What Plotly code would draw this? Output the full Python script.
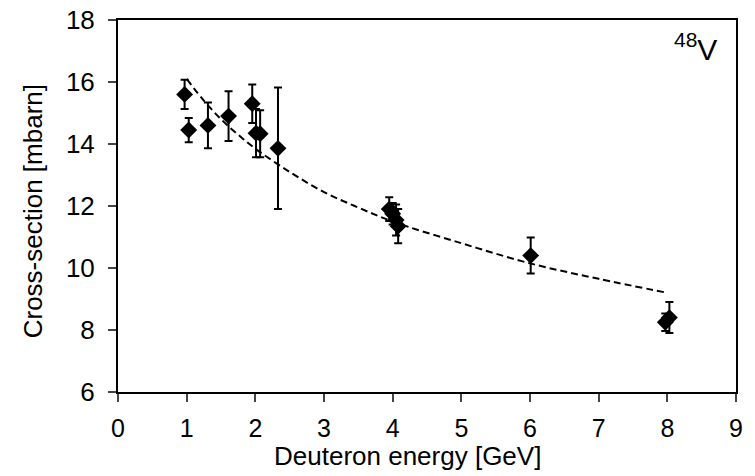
import plotly.graph_objects as go

# Measured cross-sections (Deuteron energy in GeV, cross-section in mbarn)
energy = [0.97, 1.03, 1.31, 1.61, 1.955, 2.01, 2.07, 2.33,
          3.95, 4.0, 4.05, 4.08, 6.01, 7.97, 8.03]
xsec = [15.6, 14.45, 14.6, 14.9, 15.3, 14.35, 14.33, 13.86,
        11.9, 11.75, 11.55, 11.35, 10.4, 8.25, 8.4]
err = [0.47, 0.39, 0.74, 0.8, 0.62, 0.78, 0.76, 1.96,
       0.38, 0.35, 0.5, 0.55, 0.58, 0.28, 0.5]

# Dashed trend curve
fit_e = [1.0, 1.25, 1.5, 1.75, 2.0, 2.5, 3.0, 3.5, 4.0, 5.0, 6.0, 7.0, 8.0]
fit_y = [16.1, 15.4, 14.8, 14.3, 13.85, 13.1, 12.45, 11.95, 11.5, 10.8, 10.15, 9.65, 9.2]

x_ticks = [0, 1, 2, 3, 4, 5, 6, 7, 8, 9]
y_ticks = [6, 8, 10, 12, 14, 16, 18]

fig = go.Figure()
fig.add_trace(go.Scatter(
    x=fit_e, y=fit_y, mode="lines", line=dict(color="black", width=2, dash="7px,4px", shape="spline"),
    hoverinfo="skip", showlegend=False))
fig.add_trace(go.Scatter(
    x=energy, y=xsec, mode="markers",
    marker=dict(symbol="diamond", size=13, color="black"),
    error_y=dict(type="data", array=err, visible=True, color="black", thickness=2, width=4),
    showlegend=False))

font_family = "Liberation Sans, Arial, sans-serif"
fig.update_layout(
    width=755, height=476,
    margin=dict(l=118, r=19, t=20, b=84, autoexpand=False),
    paper_bgcolor="white", plot_bgcolor="white",
    font=dict(family=font_family, color="black", size=26),
    xaxis=dict(range=[0, 9], tickvals=x_ticks, ticks="outside", ticklen=8, tickwidth=1.5,
               showline=True, linecolor="black", linewidth=2, mirror=True, showgrid=False,
               zeroline=False, automargin=False, ticklabelstandoff=5,
               tickfont=dict(size=25)),
    yaxis=dict(range=[6, 18], tickvals=y_ticks, ticks="outside", ticklen=8, tickwidth=1.5,
               showline=True, linecolor="black", linewidth=2, mirror=True, showgrid=False,
               zeroline=False, automargin=False, ticklabelstandoff=8,
               tickfont=dict(size=26)),
    annotations=[
        dict(x=0.469, y=-0.172, xref="paper", yref="paper", xanchor="center", yanchor="middle",
             text="Deuteron energy [GeV]", showarrow=False, font=dict(size=26)),
        dict(x=-0.138, y=0.485, xref="paper", yref="paper", xanchor="center", yanchor="middle",
             text="Cross-section [mbarn]", textangle=-90, showarrow=False, font=dict(size=26)),
        dict(x=0.972, y=0.985, xref="paper", yref="paper", xanchor="right", yanchor="top",
             text="<sup>48</sup>V", showarrow=False, font=dict(size=30)),
    ],
)

fig.write_html("out.html")
